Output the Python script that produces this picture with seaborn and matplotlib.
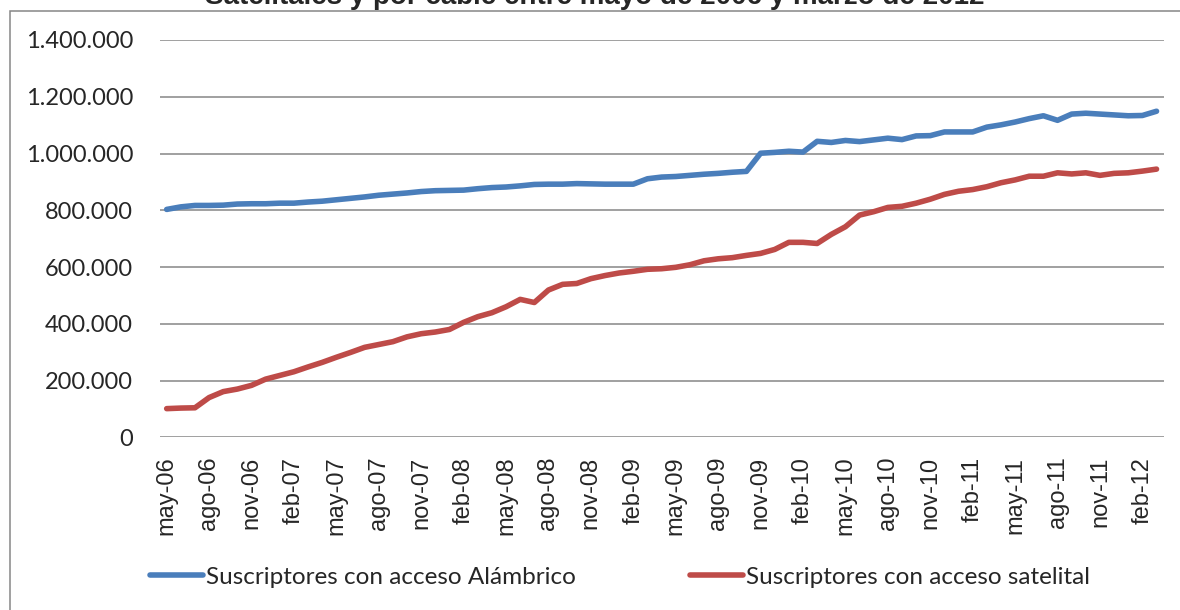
import matplotlib
matplotlib.use("Agg")
import matplotlib.pyplot as plt
import matplotlib.ticker as mticker
from matplotlib.patches import Rectangle
import seaborn as sns
import pandas as pd

# suscriptores (miles), mensual de may-06 a mar-12
alambrico = [803, 812, 817, 817, 818, 822, 823, 823, 825, 825,
             829, 832, 837, 842, 847, 853, 857, 861, 866, 869,
             870, 871, 876, 880, 882, 886, 891, 892, 892, 894,
             893, 892, 892, 892, 911, 917, 919, 923, 927, 930,
             934, 937, 1001, 1004, 1008, 1005, 1043, 1039, 1046, 1042,
             1048, 1054, 1049, 1062, 1063, 1076, 1076, 1076, 1093, 1101,
             1111, 1123, 1133, 1117, 1139, 1142, 1139, 1136, 1133, 1134,
             1149]
satelital = [101, 103, 104, 140, 161, 170, 183, 205, 218, 231,
             248, 264, 282, 299, 317, 327, 337, 354, 365, 371,
             380, 405, 425, 439, 460, 486, 475, 519, 539, 542,
             559, 570, 579, 585, 592, 594, 599, 608, 622, 629,
             633, 641, 648, 662, 687, 687, 683, 715, 742, 783,
             795, 810, 814, 825, 839, 856, 867, 873, 883, 897,
             907, 920, 920, 932, 928, 932, 923, 930, 932, 938,
             945]

meses_es = ["ene", "feb", "mar", "abr", "may", "jun",
            "jul", "ago", "sep", "oct", "nov", "dic"]
meses = []
for k in range(len(alambrico)):
    m = (4 + k) % 12
    anio = 6 + (4 + k) // 12
    meses.append(f"{meses_es[m]}-{anio:02d}")

serie_a = "Suscriptores con acceso Alámbrico"
serie_s = "Suscriptores con acceso satelital"
titulo = "Satelitales y por cable entre mayo de 2006 y marzo de 2012"
colores = ["#4A7EBB", "#BE4B48"]

df = pd.DataFrame({
    "idx": list(range(len(meses))) * 2,
    "valor": [v * 1000 for v in alambrico] + [v * 1000 for v in satelital],
    "serie": [serie_a] * len(meses) + [serie_s] * len(meses),
})

sns.set_style("white")
plt.rcParams["font.family"] = ["Liberation Sans", "DejaVu Sans"]

fig = plt.figure(figsize=(11.8, 6.1), dpi=100)
ax = fig.add_axes([159.6 / 1180, 1 - 437.3 / 610, 1004 / 1180, 397.3 / 610])

sns.lineplot(data=df, x="idx", y="valor", hue="serie",
             palette=colores, linewidth=4.0,
             solid_capstyle="round", ax=ax, legend=False)

ax.set_xlim(-0.5, len(meses) - 0.5)
ax.set_ylim(0, 1400000)
ax.set_yticks(range(0, 1400001, 200000))
ax.yaxis.set_major_formatter(mticker.FuncFormatter(
    lambda v, p: f"{int(v):,}".replace(",", ".")))
ax.set_xticks(range(0, len(meses), 3))
ax.set_xticklabels(meses[::3], rotation=90, fontsize=17,
                   family=["Liberation Sans", "DejaVu Sans"])
for lab in ax.get_yticklabels():
    lab.set_fontfamily(["Lato", "DejaVu Sans"])
    lab.set_fontsize(17)
ax.tick_params(axis="y", length=0, pad=19)
ax.tick_params(axis="x", length=0, pad=14)
ax.set_xlabel("")
ax.set_ylabel("")
ax.grid(axis="y", color="#868686", linewidth=1.1)
ax.set_axisbelow(True)
for s in ax.spines.values():
    s.set_visible(False)

# borde del área del gráfico
fig.patches.append(Rectangle((10 / 1180, -0.2), 1.2, 1.2 - 11 / 610,
                             transform=fig.transFigure, fill=False,
                             edgecolor="#868686", linewidth=1.1))

fig.text(594.5 / 1180, 1 - 4 / 610, titulo, ha="center", va="baseline",
         fontsize=20, fontweight="bold")

# una leyenda por serie, colocadas como en el original
for col, nombre, x0 in [(colores[0], serie_a, 150), (colores[1], serie_s, 690)]:
    h = plt.Line2D([], [], color=col, lw=4.0, solid_capstyle="round")
    leg = fig.legend([h], [nombre], loc="center left",
                     bbox_to_anchor=(x0 / 1180, 1 - 577 / 610), frameon=False,
                     prop={"family": ["Lato", "DejaVu Sans"], "size": 17.5},
                     handlelength=2.2, handletextpad=0.1,
                     borderaxespad=0, borderpad=0)

fig.savefig("out.png", dpi=100)
